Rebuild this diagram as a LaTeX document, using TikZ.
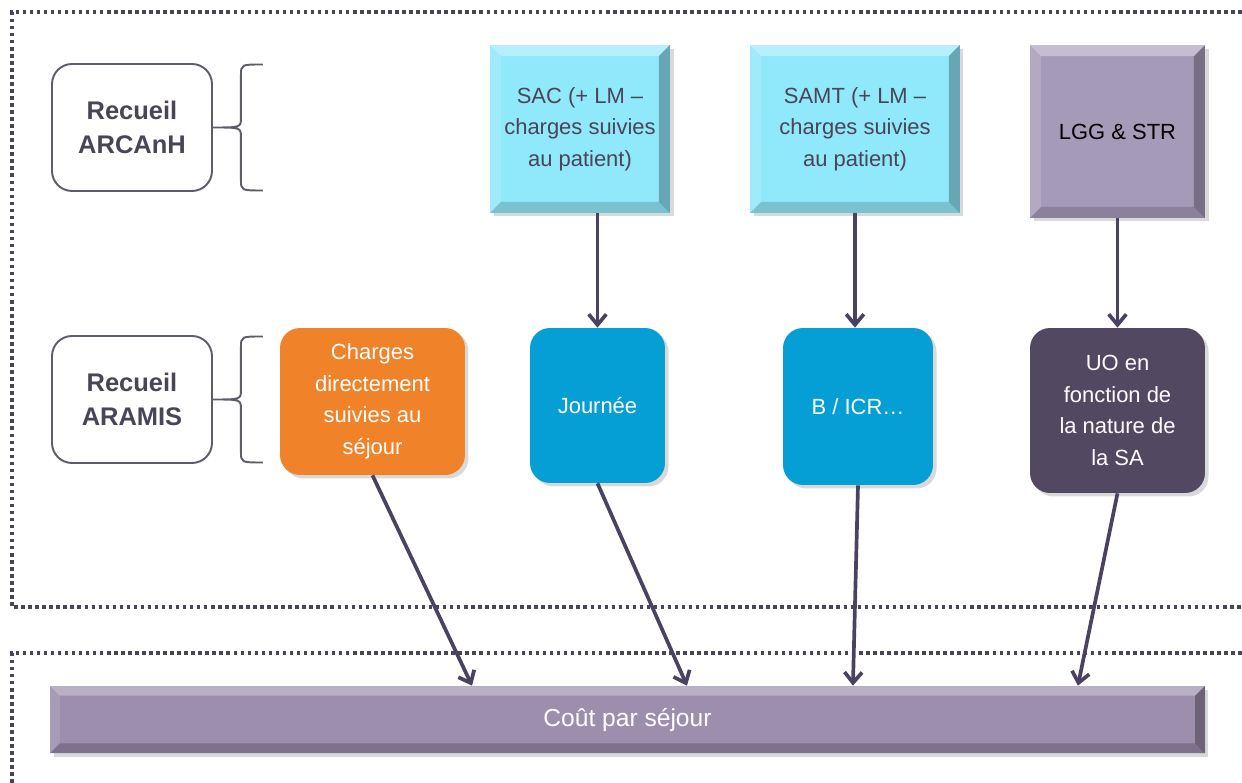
\documentclass[tikz,border=0pt]{standalone}
\usepackage{fontspec}
\setmainfont{Liberation Sans}
\usetikzlibrary{arrows.meta,shadows}

\definecolor{dotc}{HTML}{4A4458}
\definecolor{arrowc}{HTML}{4B4262}
\definecolor{darktext}{HTML}{4A4458}
\definecolor{recline}{HTML}{5E5D6A}
\definecolor{cyanbox}{HTML}{90E8FB}
\definecolor{lavbox}{HTML}{A69AB9}
\definecolor{barc}{HTML}{9D8EAE}
\definecolor{orangebox}{HTML}{F0822A}
\definecolor{bluebox}{HTML}{069FD5}
\definecolor{plumbox}{HTML}{524862}

\newcommand{\bevw}{0.22cm}

\tikzset{
  bevel/.style={path picture={
    \path (path picture bounding box.north west) coordinate (bnw)
          (path picture bounding box.north east) coordinate (bne)
          (path picture bounding box.south west) coordinate (bsw)
          (path picture bounding box.south east) coordinate (bse);
    \fill[white,opacity=.35] (bnw) -- (bne) -- ([xshift=-\bevw,yshift=-\bevw]bne) -- ([xshift=\bevw,yshift=-\bevw]bnw) -- cycle;
    \fill[white,opacity=.15] (bnw) -- ([xshift=\bevw,yshift=-\bevw]bnw) -- ([xshift=\bevw,yshift=\bevw]bsw) -- (bsw) -- cycle;
    \fill[black,opacity=.28] (bne) -- (bse) -- ([xshift=-\bevw,yshift=\bevw]bse) -- ([xshift=-\bevw,yshift=-\bevw]bne) -- cycle;
    \fill[black,opacity=.16] (bsw) -- (bse) -- ([xshift=-\bevw,yshift=\bevw]bse) -- ([xshift=\bevw,yshift=\bevw]bsw) -- cycle;
  }},
  shade/.style={drop shadow={shadow xshift=2pt,shadow yshift=-2pt,opacity=.3}},
  body/.style={font=\fontsize{12.5}{18}\selectfont,align=center,inner sep=0pt},
  rec/.style={draw=recline,line width=1.1pt,rounded corners=0.4cm,fill=white,
    minimum width=3.2cm,minimum height=2.54cm,align=center,text=darktext,
    font=\bfseries\fontsize{14.5}{19.5}\selectfont},
  sqbox/.style={body,shade,bevel,minimum height=3.36cm},
  rbox/.style={body,shade,rounded corners=0.4cm,text=white},
  brace/.style={draw=recline,line width=1.1pt},
  frame/.style={draw=dotc,line width=2pt,dash pattern=on 2pt off 2pt},
  arr/.style={draw=arrowc,line width=2.1pt,-{Straight Barb[length=6pt,width=10pt]}}
}

\begin{document}
\begin{tikzpicture}[x=0.02cm,y=-0.02cm]
    \useasboundingbox (0,0) rectangle (1242,783);

    % dotted frames
    \draw[frame] (1242,12) -- (12,12) -- (12,607) -- (1242,607);
    \draw[frame] (1242,653) -- (12,653) -- (12,783);

    % recueils
    \node[rec] (arcanh) at (132,127.5) {Recueil\\ARCAnH};
    \node[rec] (aramis) at (132,399.5) {Recueil\\ARAMIS};
    \draw[brace,shift={(arcanh.east)}] (50,-63) .. controls (28,-63) .. (28,-52) -- (28,-10)
        .. controls (28,0) .. (0,0) .. controls (28,0) .. (28,10) -- (28,52) .. controls (28,63) .. (50,63);
    \draw[brace,shift={(aramis.east)}] (50,-63) .. controls (28,-63) .. (28,-52) -- (28,-10)
        .. controls (28,0) .. (0,0) .. controls (28,0) .. (28,10) -- (28,52) .. controls (28,63) .. (50,63);

    % top boxes
    \node[sqbox,fill=cyanbox,text=darktext,minimum width=3.6cm] (sac) at (580,129) {SAC (+ LM –\\charges suivies\\au patient)};
    \node[sqbox,fill=cyanbox,text=darktext,minimum width=4.2cm] (samt) at (855,129) {SAMT (+ LM –\\charges suivies\\au patient)};
    \node[sqbox,fill=lavbox,text=black,minimum width=3.5cm,minimum height=3.46cm] (lgg) at (1117.5,131.5) {LGG \& STR};

    % middle boxes
    \node[rbox,fill=orangebox,minimum width=3.7cm,minimum height=2.94cm] (charges) at (372.5,401.5) {Charges\\directement\\suivies au\\séjour};
    \node[rbox,fill=bluebox,minimum width=2.7cm,minimum height=3.1cm] (journee) at (597.5,405.5) {Journée};
    \node[rbox,fill=bluebox,minimum width=3cm,minimum height=3.14cm] (bicr) at (858,406.5) {B / ICR…};
    \node[rbox,fill=plumbox,minimum width=3.5cm,minimum height=3.3cm] (uo) at (1117.5,410.5) {UO en\\fonction de\\la nature de\\la SA};

    % bottom bar
    \node[sqbox,fill=barc,text=white,minimum width=23.1cm,minimum height=1.34cm,
      font=\fontsize{14}{17}\selectfont,path picture={}] (cout) at (627.5,719.5) {Coût par séjour};
    \fill[white,opacity=.3] (cout.north west) -- (cout.north east) -- ([xshift=-0.2cm,yshift=-0.2cm]cout.north east) -- ([xshift=0.2cm,yshift=-0.2cm]cout.north west) -- cycle;
    \fill[black,opacity=.3] (cout.north east) -- (cout.south east) -- ([xshift=-0.2cm,yshift=0.2cm]cout.south east) -- ([xshift=-0.2cm,yshift=-0.2cm]cout.north east) -- cycle;
    \fill[black,opacity=.2] (cout.south west) -- (cout.south east) -- ([xshift=-0.2cm,yshift=0.2cm]cout.south east) -- ([xshift=0.2cm,yshift=0.2cm]cout.south west) -- cycle;
    \fill[white,opacity=.12] (cout.north west) -- ([xshift=0.2cm,yshift=-0.2cm]cout.north west) -- ([xshift=0.2cm,yshift=0.2cm]cout.south west) -- (cout.south west) -- cycle;

    \coordinate (in1) at ([xshift=-3.11cm]cout.north);
    \coordinate (in2) at ([xshift=1.19cm]cout.north);
    \coordinate (in3) at ([xshift=4.51cm]cout.north);
    \coordinate (in4) at ([xshift=9.01cm]cout.north);

    % arrows
    \draw[arr] (sac.south -| journee.north) -- (journee.north);
    \draw[arr] (samt.south) -- (samt.south |- bicr.north);
    \draw[arr] (lgg.south) -- (uo.north);
    \draw[arr] (charges.south) -- (in1);
    \draw[arr] (journee.south) -- (in2);
    \draw[arr] (bicr.south) -- (in3);
    \draw[arr] (uo.south) -- (in4);
\end{tikzpicture}
\end{document}
